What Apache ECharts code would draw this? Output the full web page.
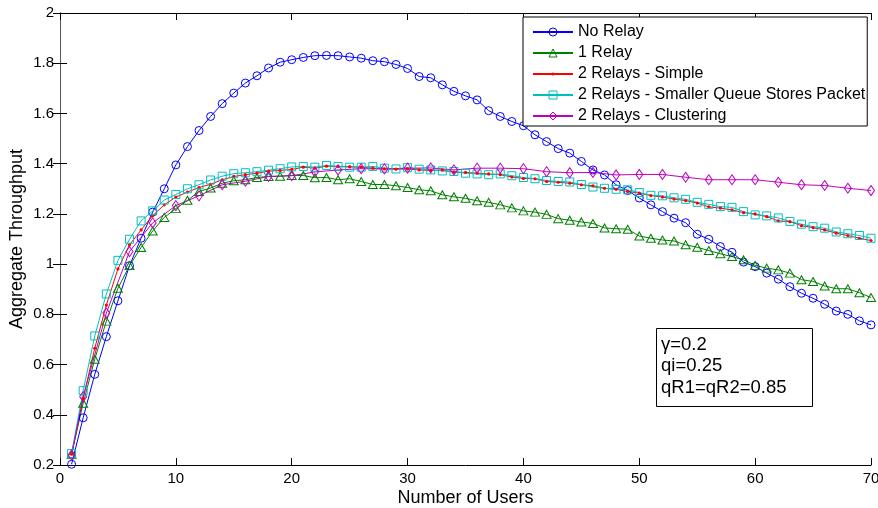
<!DOCTYPE html>
<html><head><meta charset="utf-8">
<script src="https://cdn.jsdelivr.net/npm/echarts@6/dist/echarts.min.js"></script>
<style>html,body{margin:0;padding:0;background:#fff}#c{width:878px;height:508px}</style>
</head><body><div id="c"></div>
<script>
const users = [1,2,3,4,5,6,7,8,9,10,11,12,13,14,15,16,17,18,19,20,21,22,23,24,25,26,27,28,29,30,31,32,33,34,35,36,37,38,39,40,41,42,43,44,45,46,47,48,49,50,51,52,53,54,55,56,57,58,59,60,61,62,63,64,65,66,67,68,69,70];
const noRelay = [0.203,0.388,0.561,0.711,0.854,0.994,1.103,1.207,1.300,1.395,1.468,1.532,1.588,1.639,1.681,1.721,1.750,1.781,1.804,1.814,1.823,1.830,1.831,1.830,1.825,1.820,1.810,1.806,1.795,1.779,1.747,1.742,1.714,1.688,1.670,1.654,1.611,1.588,1.568,1.551,1.515,1.488,1.460,1.442,1.409,1.375,1.355,1.316,1.293,1.263,1.236,1.209,1.183,1.165,1.119,1.099,1.070,1.047,1.008,0.990,0.964,0.940,0.910,0.884,0.864,0.840,0.813,0.800,0.774,0.758];
const oneRelay = [0.243,0.446,0.621,0.773,0.904,0.994,1.066,1.132,1.186,1.221,1.254,1.289,1.303,1.322,1.332,1.336,1.345,1.349,1.350,1.353,1.353,1.344,1.345,1.336,1.340,1.329,1.317,1.317,1.312,1.305,1.296,1.292,1.276,1.268,1.262,1.252,1.246,1.236,1.224,1.212,1.207,1.198,1.181,1.175,1.168,1.162,1.144,1.141,1.139,1.112,1.103,1.096,1.092,1.077,1.067,1.054,1.041,1.030,1.017,0.995,0.984,0.977,0.964,0.938,0.931,0.913,0.902,0.902,0.886,0.867];
const twoSimple = [0.243,0.465,0.665,0.837,0.981,1.077,1.136,1.193,1.236,1.267,1.287,1.305,1.318,1.336,1.349,1.356,1.362,1.370,1.373,1.377,1.386,1.382,1.390,1.389,1.388,1.386,1.382,1.379,1.378,1.379,1.375,1.373,1.375,1.366,1.365,1.362,1.359,1.356,1.347,1.341,1.340,1.329,1.326,1.322,1.316,1.312,1.302,1.298,1.289,1.283,1.273,1.267,1.259,1.253,1.243,1.228,1.223,1.216,1.205,1.200,1.189,1.172,1.169,1.153,1.145,1.136,1.123,1.114,1.103,1.094];
const twoSmallerQueue = [0.246,0.496,0.714,0.881,1.015,1.099,1.172,1.212,1.255,1.277,1.300,1.316,1.335,1.350,1.360,1.364,1.368,1.374,1.380,1.387,1.389,1.386,1.393,1.389,1.386,1.386,1.389,1.382,1.379,1.384,1.378,1.375,1.371,1.369,1.362,1.359,1.356,1.359,1.352,1.345,1.340,1.333,1.329,1.327,1.317,1.307,1.302,1.298,1.296,1.285,1.274,1.272,1.264,1.258,1.246,1.238,1.229,1.226,1.209,1.196,1.192,1.184,1.170,1.159,1.149,1.143,1.128,1.121,1.114,1.103];
const clusteringUsers = [1,2,4,6,8,10,12,14,16,18,20,22,24,26,28,30,32,34,36,38,40,42,44,46,48,50,52,54,56,58,60,62,64,66,68,70];
const twoClustering = [0.240,0.472,0.805,1.050,1.164,1.233,1.272,1.316,1.330,1.349,1.352,1.367,1.375,1.380,1.379,1.382,1.383,1.375,1.382,1.382,1.380,1.368,1.364,1.365,1.355,1.357,1.357,1.346,1.336,1.336,1.336,1.326,1.316,1.313,1.302,1.293];
const seriesNames = ['No Relay','1 Relay','2 Relays - Simple','2 Relays - Smaller Queue Stores Packet','2 Relays - Clustering'];
const xTicks = [0,10,20,30,40,50,60,70];
const annotation = ['γ=0.2','qi=0.25','qR1=qR2=0.85'];

const FONT = '"Liberation Sans", Arial, Helvetica, sans-serif';
const pair = (xs, ys) => xs.map((x, i) => [x, ys[i]]);
function mk(name, xs, ys, color, symbol, size, hollow) {
  return {
    type: 'line', name, data: pair(xs, ys), symbol, symbolSize: size,
    showAllSymbol: true, clip: false, animation: false,
    lineStyle: { color, width: 1 },
    itemStyle: hollow ? { color: 'rgba(0,0,0,0)', borderColor: color, borderWidth: 1 }
                      : { color, borderWidth: 0 },
    emphasis: { disabled: true }
  };
}
const dotPath = 'path://M0,0 M10,10 M5,3 A2,2 0 1 1 5,7 A2,2 0 1 1 5,3 Z';

const chart = echarts.init(document.getElementById('c'), null, { renderer: 'canvas' });
const axisCommon = { lineStyle: { color: '#000', width: 1 } };
chart.setOption({
  animation: false,
  backgroundColor: '#fff',
  textStyle: { fontFamily: FONT },
  grid: { left: 60, right: 7, top: 13, bottom: 43, containLabel: false, outerBoundsMode: 'none' },
  xAxis: [
    { type: 'value', min: xTicks[0], max: xTicks[xTicks.length-1], interval: 10, position: 'bottom',
      name: 'Number of Users', nameLocation: 'middle', nameGap: 24, nameMoveOverlap: false,
      nameTextStyle: { fontSize: 18, color: '#000', fontFamily: FONT },
      axisLine: { show: true, ...axisCommon }, axisTick: { show: true, inside: true, length: 7, lineStyle: { color: '#000' } },
      axisLabel: { fontSize: 15, color: '#000', margin: 6, fontFamily: FONT },
      splitLine: { show: false } },
    { type: 'value', min: 0, max: 70, interval: 10, position: 'top',
      axisLine: { show: true, ...axisCommon }, axisTick: { show: true, inside: true, length: 7, lineStyle: { color: '#000' } },
      axisLabel: { show: false }, splitLine: { show: false } }
  ],
  yAxis: [
    { type: 'value', min: 0.2, max: 2, interval: 0.2, position: 'left',
      name: 'Aggregate Throughput', nameLocation: 'middle', nameGap: 34, nameMoveOverlap: false,
      nameTextStyle: { fontSize: 18, color: '#000', fontFamily: FONT },
      axisLine: { show: true, ...axisCommon }, axisTick: { show: true, inside: true, length: 7, lineStyle: { color: '#000' } },
      axisLabel: { fontSize: 15, color: '#000', margin: 6, fontFamily: FONT },
      splitLine: { show: false } },
    { type: 'value', min: 0.2, max: 2, interval: 0.2, position: 'right',
      axisLine: { show: true, lineStyle: { color: '#555', width: 1 } }, axisTick: { show: true, inside: true, length: 7, lineStyle: { color: '#000' } },
      axisLabel: { show: false }, splitLine: { show: false } }
  ],
  legend: {
    show: true, orient: 'vertical', left: 523, top: 17,
    padding: [7, 2, 2, 9], itemGap: 5, itemWidth: 40, itemHeight: 10,
    backgroundColor: '#fff', borderColor: '#000', borderWidth: 1, borderRadius: 0,
    textStyle: { fontSize: 16, color: '#000', fontFamily: FONT },
    itemStyle: { borderWidth: 1 },
    selectedMode: false,
    data: seriesNames
  },
  series: [
    mk(seriesNames[0], users, noRelay, '#0000ff', 'circle', 8, true),
    mk(seriesNames[1], users, oneRelay, '#008000', 'triangle', [9, 8], true),
    mk(seriesNames[2], users, twoSimple, '#ff0000', dotPath, 8, false),
    mk(seriesNames[3], users, twoSmallerQueue, '#00bfbf', 'rect', 8, true),
    mk(seriesNames[4], clusteringUsers, twoClustering, '#bf00bf', 'diamond', [7, 10], true)
  ],
  graphic: [
    { type: 'rect', left: 656, top: 328, z: 100,
      shape: { width: 156, height: 78 }, style: { fill: '#fff', stroke: '#000', lineWidth: 1 } },
    { type: 'text', left: 661, top: 334, z: 101,
      style: { text: annotation.join('\n'), fontSize: 18.5, lineHeight: 21.5, fill: '#000', fontFamily: FONT } }
  ]
});
</script></body></html>
